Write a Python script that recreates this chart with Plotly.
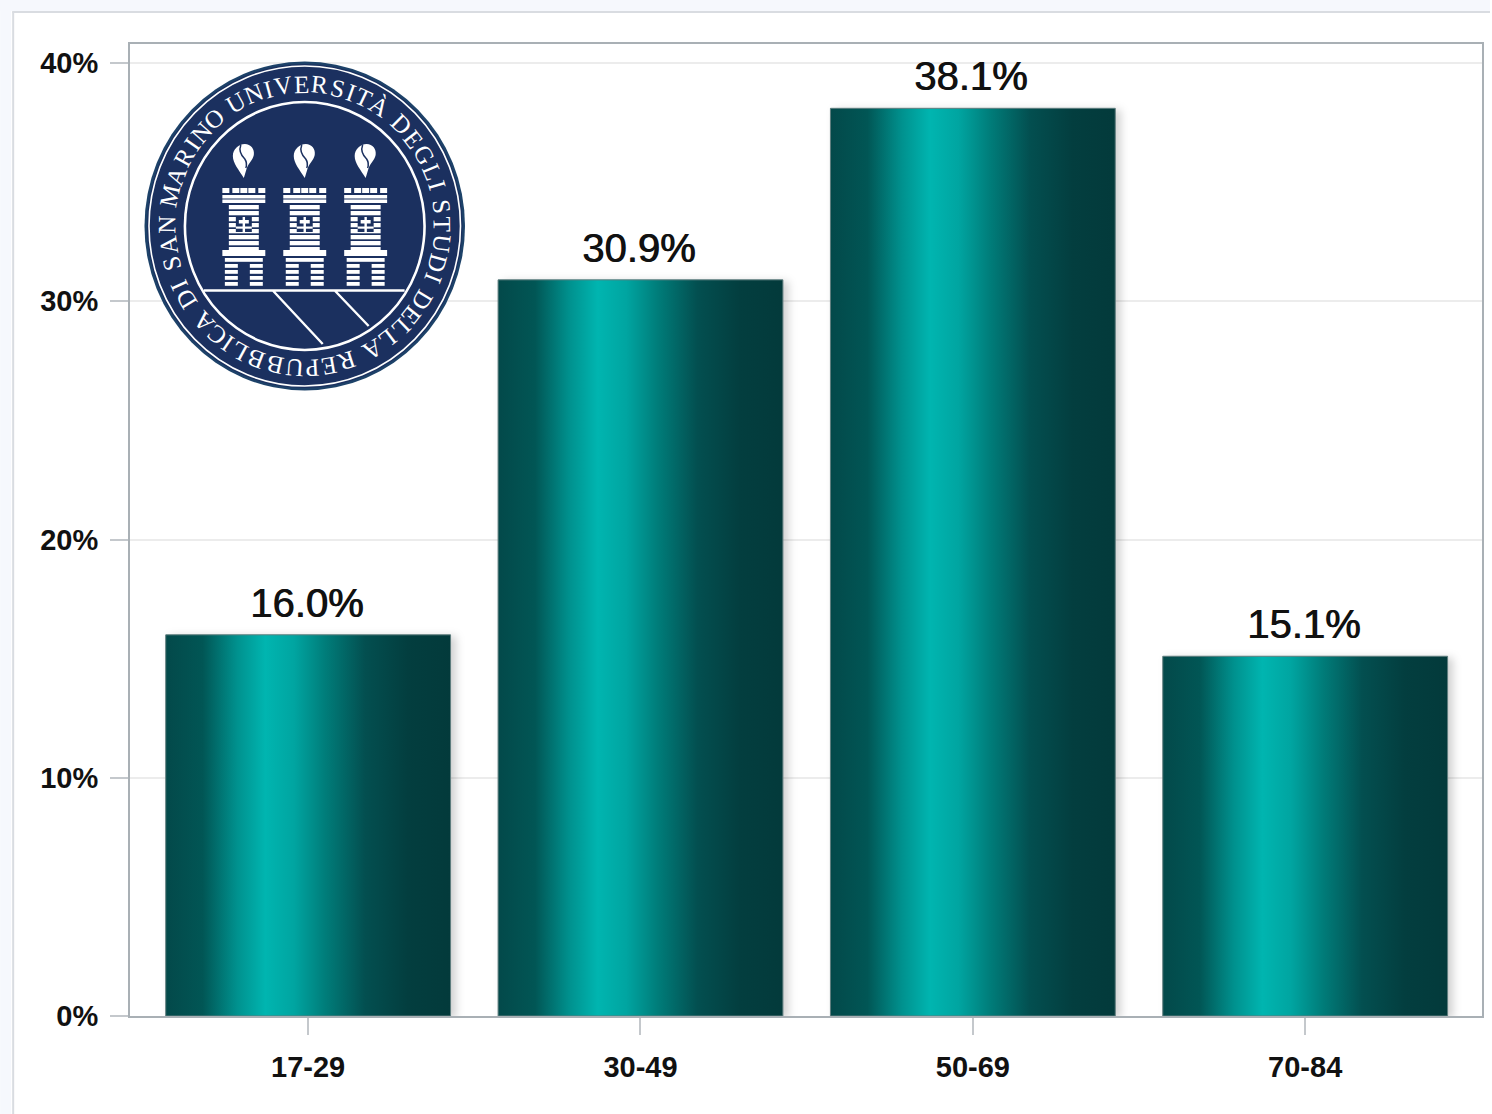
import math
import urllib.parse
import plotly.graph_objects as go

W, H = 1492, 1114
L, T, R, B = 130, 44, 1484, 1016

age_groups = ["17-29", "30-49", "50-69", "70-84"]
shares = [16.0, 30.9, 38.1, 15.1]
y_ticks = [0, 10, 20, 30, 40]
y_tick_labels = ["0%", "10%", "20%", "30%", "40%"]
seal_text = "REPUBBLICA DI SAN MARINO UNIVERSITÀ DEGLI STUDI DELLA "
NAVY = "#1b305f"

def px(x):
    return (x - L) / (R - L)

def py(y):
    return (B - y) / (B - T)

# ---------- university seal drawn as vector image ----------
def tower(cx):
    s = []
    def r(x, y, w, h, fill="#fff"):
        s.append(f'<rect x="{cx + x}" y="{y}" width="{w}" height="{h}" fill="{fill}"/>')
    for dx in (-21.5, -11.5, -3.5, 4.5, 14.5):
        r(dx, 188, 7, 5)
    r(-21.5, 195, 43, 3.5)
    r(-21.5, 199.5, 43, 3.5)
    y = 205
    while y < 249:
        r(-15, y, 30, 4.3)
        y += 6
    r(-8, 217, 16, 15, NAVY)
    r(-5, 220, 10, 3.5)
    r(-1.2, 217, 2.4, 15)
    r(-8, 226.5, 16, 2.2)
    r(-21.5, 250, 43, 6)
    y = 258
    while y < 288:
        r(-19, y, 38, 3.8)
        y += 6
    r(-6, 264, 12, 26, NAVY)
    s.append(
        f'<path d="M{cx} 178 C{cx-5} 170 {cx-11} 163 {cx-11} 156 C{cx-11} 149 {cx-5} 144 {cx+1} 144 '
        f'C{cx+7} 144 {cx+11} 149 {cx+10} 155 C{cx+9} 160 {cx+5} 163 {cx+3} 168 Z" fill="#fff"/>'
        f'<path d="M{cx-3} 145 C{cx-5} 150 {cx-3} 155 {cx+1} 159 C{cx+3} 162 {cx+3} 165 {cx+2} 168" '
        f'fill="none" stroke="{NAVY}" stroke-width="1.5"/>'
    )
    return "".join(s)

seal_svg = (
    f'<svg xmlns="http://www.w3.org/2000/svg" width="{W}" height="{H}" viewBox="0 0 {W} {H}">'
    f'<ellipse cx="305" cy="226" rx="160.5" ry="164.5" fill="#1d4269"/>'
    f'<ellipse cx="305" cy="226" rx="158" ry="162" fill="{NAVY}"/>'
    f'<ellipse cx="305" cy="226" rx="156" ry="160" fill="none" stroke="#fff" stroke-width="1.6"/>'
    f'<ellipse cx="305" cy="226" rx="120" ry="124" fill="none" stroke="#fff" stroke-width="2.6"/>'
    + tower(244) + tower(305) + tower(366)
    + '<path d="M204 290.5 H405 M273 290.5 L323 344 M335 290.5 L369 326" stroke="#fff" stroke-width="2.4" fill="none"/>'
    + "</svg>"
)
seal_uri = "data:image/svg+xml," + urllib.parse.quote(seal_svg)

# ---------- seal lettering as real text ----------
def char_w(c):
    if c == " ":
        return 0.32
    if c == "I":
        return 0.40
    if c in "MÀAUNVDGRBQ":
        return 0.76
    return 0.64

seal_ann = []
total = sum(char_w(c) for c in seal_text)
a = 158.0
for c in seal_text:
    w = char_w(c) / total * 360
    th = a + w / 2
    a += w
    if c == " ":
        continue
    rr = math.radians(th)
    x = 305 + 138 * math.sin(rr)
    y = 226 - 142 * math.cos(rr)
    seal_ann.append(dict(
        text=c, x=px(x), y=py(y), xref="paper", yref="paper", showarrow=False,
        xanchor="center", yanchor="middle", textangle=th,
        font=dict(family="Liberation Serif", size=25, color="#ffffff"),
    ))

value_ann = [
    dict(text=f"{v:.1f}%", x=g, y=v, xref="x", yref="y", yshift=32, xshift=-2, showarrow=False,
         xanchor="center", yanchor="middle",
         font=dict(family="Liberation Sans", size=40, color="#111111", shadow="0.8px 0 0 #111111"))
    for g, v in zip(age_groups, shares)
]

fig = go.Figure(go.Bar(
    x=age_groups, y=shares, width=0.857,
    marker=dict(color="#00807c", line=dict(color="#5d7c7d", width=1)),
))

frame = [
    dict(type="rect", xref="paper", yref="paper", x0=px(0), x1=px(W), y0=py(0), y1=py(11),
         fillcolor="#f6f8fd", line_width=0, layer="below"),
    dict(type="rect", xref="paper", yref="paper", x0=px(0), x1=px(11), y0=py(0), y1=py(H),
         fillcolor="#f6f8fd", line_width=0, layer="below"),
    dict(type="line", xref="paper", yref="paper", x0=px(12), x1=px(W), y0=py(12), y1=py(12),
         line=dict(color="#d9dce1", width=2)),
    dict(type="line", xref="paper", yref="paper", x0=px(13), x1=px(13), y0=py(12), y1=py(H),
         line=dict(color="#d9dce1", width=2)),
]

fig.update_layout(
    width=W, height=H, autosize=False, showlegend=False,
    margin=dict(l=L, r=W - R, t=T, b=H - B, pad=0),
    paper_bgcolor="#ffffff", plot_bgcolor="#ffffff",
    shapes=frame, annotations=seal_ann + value_ann,
    images=[dict(source=seal_uri, xref="paper", yref="paper", x=px(0), y=py(0),
                 sizex=W / (R - L), sizey=H / (B - T), xanchor="left", yanchor="top",
                 sizing="stretch", layer="above")],
    xaxis=dict(type="category", range=[-0.536, 3.532], showgrid=False, showline=True, mirror=True,
               linecolor="#a9b0b5", linewidth=2, ticks="outside", ticklen=17, tickwidth=2,
               tickcolor="#c4c8cc", ticklabelstandoff=7,
               tickfont=dict(family="Liberation Sans", size=29, color="#111111", weight="bold")),
    yaxis=dict(range=[0, 40.8], tickmode="array", tickvals=y_ticks, ticktext=y_tick_labels,
               showgrid=True, gridcolor="#ececec",
               gridwidth=2, zeroline=False, showline=True, mirror=True, linecolor="#a9b0b5", linewidth=2,
               ticks="outside", ticklen=18, tickwidth=2, tickcolor="#c4c8cc", ticklabelstandoff=6,
               tickfont=dict(family="Liberation Sans", size=29, color="#111111", weight="bold")),
)

post = """
document.body.style.margin='0';
var svg=document.querySelector('.main-svg');
var ns='http://www.w3.org/2000/svg';
var g=document.createElementNS(ns,'linearGradient');
g.setAttribute('id','barSheen');
[[0,'#03494a'],[0.13,'#015655'],[0.25,'#00918e'],[0.35,'#00b5b0'],[0.45,'#00a5a1'],[0.56,'#007d7a'],
 [0.7,'#034f50'],[0.85,'#033e3f'],[1,'#033a3b']].forEach(function(s){
  var e=document.createElementNS(ns,'stop');
  e.setAttribute('offset',s[0]);e.setAttribute('stop-color',s[1]);g.appendChild(e);});
var d=svg.querySelector('defs')||svg.insertBefore(document.createElementNS(ns,'defs'),svg.firstChild);
d.appendChild(g);
document.querySelectorAll('.barlayer .point path').forEach(function(p){
  p.style.fill='url(#barSheen)';
  p.style.filter='drop-shadow(5px 2px 4px rgba(0,0,0,0.18))';
});
"""
fig.write_html("out.html", post_script=post, config=dict(displayModeBar=False))
